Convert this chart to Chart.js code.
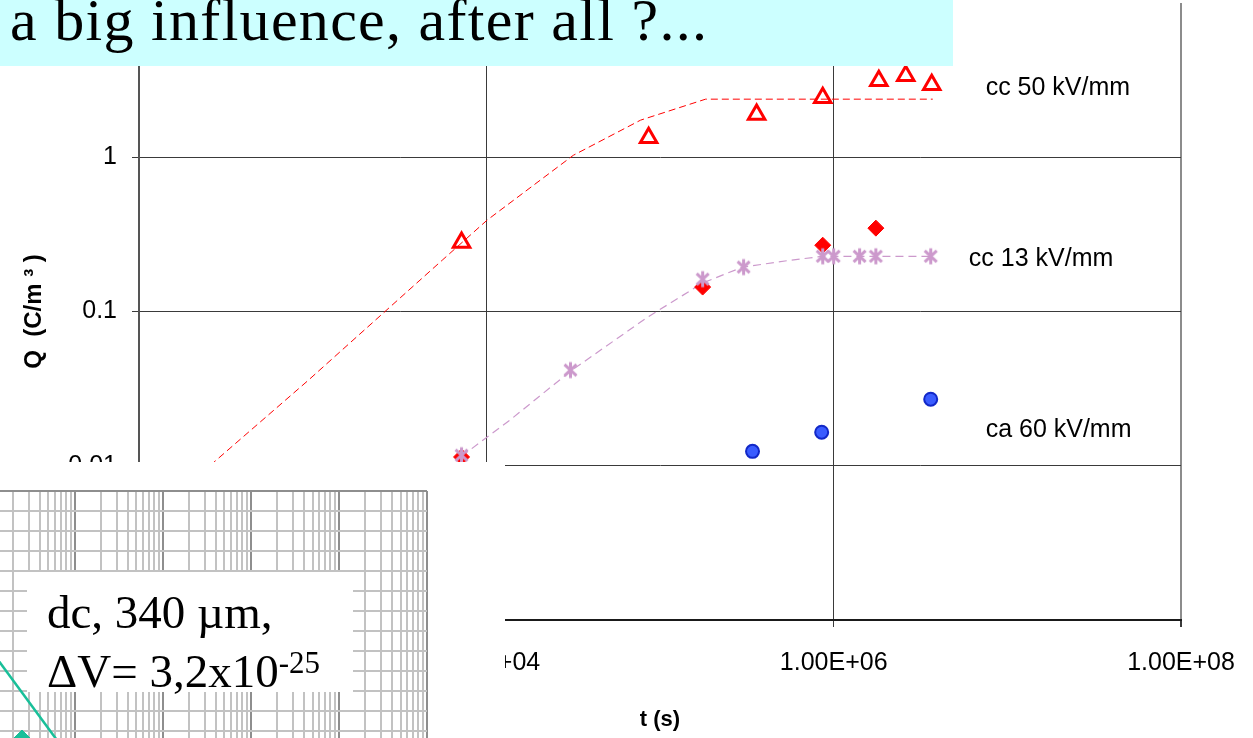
<!DOCTYPE html>
<html>
<head>
<meta charset="utf-8">
<script src="https://cdn.jsdelivr.net/npm/chart.js@4.4.1/dist/chart.umd.min.js"></script>
<style>
  html, body { margin: 0; padding: 0; background: #fff; overflow: hidden; }
  #main { position: absolute; left: 0; top: 0; }
  #title { position: absolute; left: 0; top: 0; width: 953px; height: 66px; background: #ccffff; overflow: hidden; }
  #title span { position: absolute; left: 10px; top: -10px; font: 60px/60px "Liberation Serif", "Times New Roman", serif; letter-spacing: 1.3px; white-space: nowrap; color: #000; }
  #cover { position: absolute; left: 0; top: 462px; width: 505px; height: 276px; background: #fff; }
  #inset { position: absolute; left: 0; top: 490px; }
  #note { position: absolute; left: 27px; top: 572px; width: 326px; height: 120px; background: #fff; }
  #note div { position: absolute; left: 20px; font: 47px/47px "Liberation Serif", "Times New Roman", serif; white-space: nowrap; color: #000; }
  #note .l1 { top: 17px; }
  #note .l2 { top: 76px; }
  #note sup { font-size: 31px; line-height: 0; vertical-align: baseline; position: relative; top: -14px; }
</style>
</head>
<body>
<canvas id="main" width="1253" height="738"></canvas>
<div id="title"><span>a big influence, after all ?...</span></div>
<div id="cover"></div>
<canvas id="inset" width="430" height="248"></canvas>
<div id="note">
  <div class="l1">dc, 340 µm,</div>
  <div class="l2">ΔV= 3,2x10<sup>-25</sup></div>
</div>
<script>
// main chart data (t in s, Q in C/m3)
var fit50T = [120, 274, 930, 5570, 10100, 31700, 77300, 183000, 3720000];
var fit50Q = [0.0047, 0.0107, 0.0353, 0.215, 0.391, 1.03, 1.74, 2.38, 2.38];
var cc50T = [7200, 86000, 360000, 865000, 1820000, 2600000, 3670000];
var cc50Q = [0.28, 1.34, 1.89, 2.43, 3.13, 3.37, 2.95];

var fit13T = [7180, 13700, 30500, 84700, 176000, 299000, 565000, 865000, 3620000];
var fit13Q = [0.0115, 0.0198, 0.041, 0.0918, 0.153, 0.194, 0.215, 0.228, 0.228];
var cc13T = [7200, 30500, 176000, 303000, 865000, 1000000, 1410000, 1750000, 3620000];
var cc13Q = [0.0117, 0.0417, 0.162, 0.194, 0.228, 0.228, 0.228, 0.228, 0.228];

var diamondT = [7200, 176000, 865000, 1750000];
var diamondQ = [0.0114, 0.144, 0.269, 0.347];

var ca60T = [341000, 853000, 3620000];
var ca60Q = [0.0124, 0.0165, 0.027];

var xTickValues = [1e2, 1e4, 1e6, 1e8];
var xTickLabels = ['1.00E+02', '1.00E+04', '1.00E+06', '1.00E+08'];
var yTickValues = [0.001, 0.01, 0.1, 1, 10];
var yTickLabels = ['0.001', '0.01', '0.1', '1', '10'];

var seriesLabels = ['cc 50 kV/mm', 'cc 13 kV/mm', 'ca 60 kV/mm'];
var labelT = [7.5e6, 6.0e6, 7.5e6];
var labelQ = [2.8, 0.218, 0.017];

// inset (background graph paper) data
var insetLineX = [0.108, 0.77];
var insetLineY = [-7.9, -13.0];
var insetMarkX = [0.25];
var insetMarkY = [-12.4];

var SANS = '"Liberation Sans", Arial, sans-serif';

function pts( xs, ys ) {
  return xs.map(function( x, i ) { return { x: x, y: ys[i] }; });
}

function makeAsterisk( size, color ) {
  var c = document.createElement('canvas');
  c.width = size;
  c.height = size;
  var g = c.getContext('2d');
  var m = size / 2, r = size / 2 - 1.5;
  g.strokeStyle = color;
  g.lineWidth = 3;
  g.beginPath();
  g.moveTo(m, m - r); g.lineTo(m, m + r);
  g.moveTo(m - r * 0.75, m - r * 0.7); g.lineTo(m + r * 0.75, m + r * 0.7);
  g.moveTo(m - r * 0.75, m + r * 0.7); g.lineTo(m + r * 0.75, m - r * 0.7);
  g.stroke();
  return c;
}

var labelPlugin = {
  id: 'seriesLabels',
  afterDatasetsDraw: function( chart ) {
    var ctx = chart.ctx;
    ctx.save();
    ctx.font = '25px ' + SANS;
    ctx.fillStyle = '#000';
    ctx.textAlign = 'left';
    ctx.textBaseline = 'middle';
    seriesLabels.forEach(function( txt, i ) {
      ctx.fillText(txt, chart.scales.x.getPixelForValue(labelT[i]), chart.scales.y.getPixelForValue(labelQ[i]));
    });
    ctx.restore();
  }
};

new Chart(document.getElementById('main').getContext('2d'), {
  type: 'scatter',
  data: {
    datasets: [
      { data: pts(fit50T, fit50Q), showLine: true, borderColor: '#ff0000', borderWidth: 1, borderDash: [7, 4], pointRadius: 0, order: 6 },
      { data: pts(fit13T, fit13Q), showLine: true, borderColor: '#cc99cc', borderWidth: 1.2, borderDash: [8, 5], pointRadius: 0, order: 6 },
      { data: pts(diamondT, diamondQ), pointStyle: 'rectRot', pointRadius: 8, backgroundColor: '#ff0000', borderColor: '#ff0000', borderWidth: 1, order: 4 },
      { data: pts(cc13T, cc13Q), pointStyle: makeAsterisk(19, '#cc99cc'), order: 3 },
      { data: pts(cc50T, cc50Q), pointStyle: 'triangle', pointRadius: 9.5, backgroundColor: 'rgba(255,255,255,0)', borderColor: '#ff0000', borderWidth: 3, order: 2 },
      { data: pts(ca60T, ca60Q), pointStyle: 'circle', pointRadius: 6.5, backgroundColor: '#3a5cff', borderColor: '#1228c8', borderWidth: 2, order: 1 }
    ]
  },
  options: {
    responsive: false,
    animation: false,
    devicePixelRatio: 1,
    layout: { autoPadding: false, padding: { left: 20, top: 3, right: 72, bottom: 5 } },
    plugins: { legend: { display: false }, tooltip: { enabled: false } },
    scales: {
      x: {
        type: 'logarithmic',
        position: 'bottom',
        min: 1e2,
        max: 1e8,
        afterBuildTicks: function( s ) { s.ticks = xTickValues.map(function( v ) { return { value: v }; }); },
        afterFit: function( s ) { s.height = 113; s.paddingLeft = 0; s.paddingRight = 0; },
        ticks: {
          autoSkip: false,
          maxRotation: 0,
          padding: 21,
          color: '#000',
          font: { family: SANS, size: 25 },
          callback: function( v, i ) { return xTickLabels[i]; }
        },
        grid: {
          color: function( c ) { return c.tick && c.tick.value === 1e8 ? '#8c8c8c' : '#3a3a3a'; },
          lineWidth: function( c ) { return c.tick && c.tick.value === 1e8 ? 2 : 1; },
          tickColor: '#3a3a3a',
          tickLength: 7
        },
        border: { color: '#1a1a1a', width: 2 },
        title: { display: true, text: 't (s)', color: '#000', padding: 0, font: { family: SANS, size: 22, weight: 'bold' } }
      },
      y: {
        type: 'logarithmic',
        min: 0.001,
        max: 10,
        afterBuildTicks: function( s ) { s.ticks = yTickValues.map(function( v ) { return { value: v }; }); },
        afterFit: function( s ) { s.width = 119; s.paddingTop = 0; s.paddingBottom = 0; },
        ticks: {
          padding: 15,
          color: '#000',
          font: { family: SANS, size: 25, lineHeight: 0.2 },
          callback: function( v, i ) { return yTickLabels[i]; }
        },
        grid: {
          color: function( c ) { return c.tick && c.tick.value === 10 ? 'rgba(0,0,0,0)' : '#3a3a3a'; },
          lineWidth: 1,
          tickColor: '#3a3a3a',
          tickLength: 7
        },
        border: { color: '#555', width: 2 },
        title: { display: true, text: 'Q  (C/m ³ )', color: '#000', padding: 0, font: { family: SANS, size: 24, weight: 'bold' } }
      }
    }
  },
  plugins: [labelPlugin]
});

// graph paper inset in the lower left
function isDecade( v ) {
  var l = Math.log10(v);
  return Math.abs(l - Math.round(l)) < 1e-6;
}

new Chart(document.getElementById('inset').getContext('2d'), {
  type: 'scatter',
  data: {
    datasets: [
      { data: pts(insetLineX, insetLineY), showLine: true, borderColor: '#19bf99', borderWidth: 2.5, pointRadius: 0 },
      { data: pts(insetMarkX, insetMarkY), pointStyle: 'rectRot', pointRadius: 9, backgroundColor: '#19bf99', borderColor: '#19bf99', clip: false }
    ]
  },
  options: {
    responsive: false,
    animation: false,
    devicePixelRatio: 1,
    layout: { autoPadding: false, padding: { left: 0, top: 1, right: 3, bottom: 0 } },
    plugins: { legend: { display: false }, tooltip: { enabled: false } },
    scales: {
      x: {
        type: 'logarithmic',
        min: 0.1406,
        max: 1e4,
        afterBuildTicks: function( s ) {
          var t = [];
          for ( var n = -1; n <= 3; n++ ) {
            for ( var k = 1; k <= 9; k++ ) {
              var v = k * Math.pow(10, n);
              if ( v >= s.min && v <= s.max ) t.push({ value: v });
            }
          }
          t.push({ value: 1e4 });
          s.ticks = t;
        },
        afterFit: function( s ) { s.height = 0; s.paddingLeft = 0; s.paddingRight = 0; },
        ticks: { display: false },
        grid: {
          drawTicks: false,
          lineWidth: 2,
          color: function( c ) { return c.tick && isDecade(c.tick.value) ? '#8e8e8e' : '#c2c2c2'; }
        },
        border: { display: false }
      },
      y: {
        type: 'linear',
        min: -12.35,
        max: 0,
        afterBuildTicks: function( s ) {
          var t = [];
          for ( var v = 0; v >= -12; v-- ) t.push({ value: v });
          s.ticks = t;
        },
        afterFit: function( s ) { s.width = 0; s.paddingTop = 0; s.paddingBottom = 0; },
        ticks: { display: false },
        grid: {
          drawTicks: false,
          lineWidth: 2,
          color: function( c ) { return c.tick && c.tick.value === 0 ? '#8e8e8e' : '#c2c2c2'; }
        },
        border: { display: false }
      }
    }
  }
});
</script>
</body>
</html>
